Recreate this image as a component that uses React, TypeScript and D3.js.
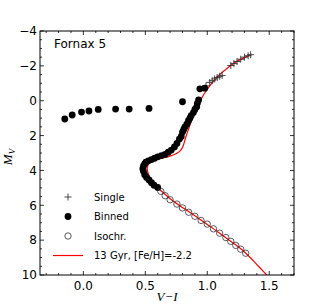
import React, { useEffect } from 'react';
import * as d3 from 'd3';

// binned stars (V-I, M_V)
const binned: [number, number][] = [
  [-0.15, 1.05], [-0.09, 0.82], [-0.015, 0.65], [0.045, 0.59], [0.12, 0.5],
  [0.26, 0.48], [0.37, 0.48], [0.53, 0.44], [0.8, 0.06],
  [0.94, -0.68], [0.98, -0.72],
  [0.93, -0.04], [0.92, 0.15], [0.915, 0.34], [0.9, 0.5], [0.888, 0.68],
  [0.87, 0.85], [0.86, 1.0], [0.848, 1.15], [0.835, 1.35], [0.82, 1.5],
  [0.81, 1.65], [0.8, 1.8], [0.79, 2.05], [0.775, 2.2], [0.755, 2.45],
  [0.735, 2.65], [0.71, 2.83], [0.685, 2.95], [0.66, 3.08], [0.63, 3.15],
  [0.6, 3.22], [0.575, 3.3], [0.55, 3.38], [0.525, 3.45], [0.505, 3.52],
  [0.495, 3.62], [0.485, 3.75], [0.48, 3.9], [0.485, 4.05], [0.495, 4.25],
  [0.51, 4.4], [0.53, 4.55], [0.55, 4.7], [0.57, 4.85], [0.6, 4.98],
];

// single stars on the upper giant branch
const single: [number, number][] = [
  [0.99, -0.85], [1.02, -1.05], [1.04, -1.15], [1.06, -1.25], [1.08, -1.33],
  [1.1, -1.4], [1.12, -1.45], [1.19, -2.02], [1.215, -2.13], [1.24, -2.25],
  [1.27, -2.38], [1.3, -2.5], [1.33, -2.58], [1.35, -2.64],
];

// isochrone points on the lower main sequence
const isochr: [number, number][] = [
  [0.625, 5.2], [0.66, 5.45], [0.7, 5.68], [0.755, 5.93], [0.8, 6.15],
  [0.85, 6.4], [0.9, 6.63], [0.95, 6.87], [1.0, 7.08], [1.05, 7.35],
  [1.1, 7.6], [1.15, 7.85], [1.19, 8.07], [1.23, 8.3], [1.27, 8.52], [1.31, 8.75],
];

// 13 Gyr, [Fe/H]=-2.2 isochrone
const model: [number, number][] = [
  [1.35, -2.63], [1.3, -2.47], [1.25, -2.3], [1.2, -2.08], [1.15, -1.8],
  [1.1, -1.5], [1.06, -1.2], [1.02, -0.85], [0.985, -0.5], [0.955, -0.15],
  [0.93, 0.2], [0.905, 0.6], [0.88, 1.0], [0.86, 1.4], [0.84, 1.8],
  [0.82, 2.25], [0.805, 2.6], [0.785, 2.85], [0.755, 3.02], [0.71, 3.15],
  [0.65, 3.27], [0.6, 3.35], [0.56, 3.45], [0.535, 3.57], [0.52, 3.72],
  [0.515, 3.9], [0.52, 4.1], [0.535, 4.4], [0.56, 4.7], [0.6, 5.0],
  [0.64, 5.25], [0.7, 5.62], [0.8, 6.13], [0.9, 6.6], [1.0, 7.1],
  [1.1, 7.6], [1.2, 8.12], [1.28, 8.55], [1.34, 8.95], [1.4, 9.4],
  [1.46, 9.85], [1.49, 10.08],
];

const xMajor = [0.0, 0.5, 1.0, 1.5];
const yMajor = [-4, -2, 0, 2, 4, 6, 8, 10];
const legendLabels = ['Single', 'Binned', 'Isochr.', '13 Gyr, [Fe/H]=-2.2'];

const W = 327;
const H = 306;
const m = { left: 40, right: 294, top: 31, bottom: 275 };

const x = d3.scaleLinear().domain([-0.35, 1.7]).range([m.left, m.right]);
const y = d3.scaleLinear().domain([-4, 10]).range([m.top, m.bottom]);

const xMinor = d3.range(-0.3, 1.71, 0.1).filter((v) => Math.abs(v * 2 - Math.round(v * 2)) > 1e-6);
const yMinor = d3.range(-3.5, 10, 0.5).filter((v) => Math.abs(v / 2 - Math.round(v / 2)) > 1e-6);

const fmt = (v: number, d: number) => (v < 0 ? '\u2212' : '') + Math.abs(v).toFixed(d);

const Cross = ({ cx, cy, s = 3.5 }: { cx: number; cy: number; s?: number }) => (
  <g stroke="#333" strokeWidth={0.9}>
    <line x1={cx - s} x2={cx + s} y1={cy} y2={cy} />
    <line x1={cx} x2={cx} y1={cy - s} y2={cy + s} />
  </g>
);

export default function App() {
  useEffect(() => {
    document.body.style.margin = '0';
  }, []);

  const line = d3
    .line<[number, number]>()
    .x((d) => x(d[0]))
    .y((d) => y(d[1]))
    .curve(d3.curveCatmullRom);

  const font = 'DejaVu Sans, sans-serif';
  const legX = 68;
  const legRows = [197, 216.5, 236, 255.5];

  return (
    <svg width={W} height={H} style={{ display: 'block', background: '#fff' }}>
      <defs>
        <clipPath id="plot">
          <rect x={m.left} y={m.top} width={m.right - m.left} height={m.bottom - m.top} />
        </clipPath>
      </defs>

      <g clipPath="url(#plot)">
        <path d={line(model) || ''} fill="none" stroke="#f00" strokeWidth={1.2} />
        {single.map((d, i) => (
          <Cross key={i} cx={x(d[0])} cy={y(d[1])} />
        ))}
        {binned.map((d, i) => (
          <circle key={i} cx={x(d[0])} cy={y(d[1])} r={3.4} fill="#000" />
        ))}
        {isochr.map((d, i) => (
          <circle key={i} cx={x(d[0])} cy={y(d[1])} r={3.2} fill="none" stroke="#333" strokeWidth={0.8} />
        ))}
      </g>

      {/* frame */}
      <rect x={m.left} y={m.top} width={m.right - m.left} height={m.bottom - m.top} fill="none" stroke="#000" strokeWidth={1} />

      {/* ticks */}
      <g stroke="#000" strokeWidth={0.8}>
        {xMajor.map((v) => (
          <g key={'xM' + v}>
            <line x1={x(v)} x2={x(v)} y1={m.bottom} y2={m.bottom - 4} />
            <line x1={x(v)} x2={x(v)} y1={m.top} y2={m.top + 4} />
          </g>
        ))}
        {xMinor.map((v) => (
          <g key={'xm' + v}>
            <line x1={x(v)} x2={x(v)} y1={m.bottom} y2={m.bottom - 2} />
            <line x1={x(v)} x2={x(v)} y1={m.top} y2={m.top + 2} />
          </g>
        ))}
        {yMajor.map((v) => (
          <g key={'yM' + v}>
            <line x1={m.left} x2={m.left + 4} y1={y(v)} y2={y(v)} />
            <line x1={m.right} x2={m.right - 4} y1={y(v)} y2={y(v)} />
          </g>
        ))}
        {yMinor.map((v) => (
          <g key={'ym' + v}>
            <line x1={m.left} x2={m.left + 2} y1={y(v)} y2={y(v)} />
            <line x1={m.right} x2={m.right - 2} y1={y(v)} y2={y(v)} />
          </g>
        ))}
      </g>

      {/* tick labels */}
      <g fontFamily={font} fontSize={12} fill="#000">
        {xMajor.map((v) => (
          <text key={'xl' + v} x={x(v)} y={m.bottom + 15} textAnchor="middle">
            {fmt(v, 1)}
          </text>
        ))}
        {yMajor.map((v) => (
          <text key={'yl' + v} x={m.left - 3} y={y(v) + 4.3} textAnchor="end">
            {fmt(v, 0)}
          </text>
        ))}
      </g>

      {/* axis labels */}
      <text x={(m.left + m.right) / 2} y={301} textAnchor="middle" fontFamily="Liberation Serif, serif" fontStyle="italic" fontSize={13}>
        V{'\u2212'}I
      </text>
      <text transform="translate(12,157) rotate(-90)" textAnchor="middle" fontFamily="Liberation Serif, serif" fontStyle="italic" fontSize={13}>
        M<tspan fontSize={9} dy={3}>V</tspan>
      </text>

      <text x={54} y={48} fontFamily={font} fontSize={12}>Fornax 5</text>

      {/* legend */}
      <g fontFamily={font} fontSize={10}>
        <Cross cx={legX} cy={legRows[0]} />
        <circle cx={legX} cy={legRows[1]} r={3.4} fill="#000" />
        <circle cx={legX} cy={legRows[2]} r={3.2} fill="none" stroke="#333" strokeWidth={0.8} />
        <line x1={53} x2={83} y1={legRows[3]} y2={legRows[3]} stroke="#f00" strokeWidth={1.2} />
        {legendLabels.map((t, i) => (
          <text key={t} x={94} y={legRows[i] + 3.6}>
            {t}
          </text>
        ))}
      </g>
    </svg>
  );
}
